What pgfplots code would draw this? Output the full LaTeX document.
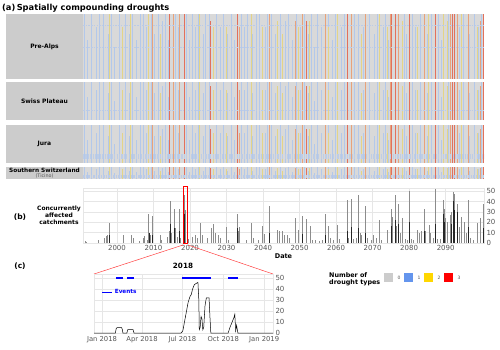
\documentclass[border=0pt]{standalone}
\usepackage{pgfplots}
\pgfplotsset{compat=1.18}
\usepackage{pgfplotstable}
\usepackage{fontspec}
\setmainfont{DejaVu Sans}
\definecolor{hbg}{HTML}{D9D9D9}
\definecolor{lbox}{HTML}{CCCCCC}
\definecolor{hblue}{HTML}{B3C8EA}
\definecolor{hyel}{HTML}{E3D487}
\definecolor{horg}{HTML}{E8A27A}
\definecolor{hred}{HTML}{E2705C}
\definecolor{tickc}{HTML}{555555}
\definecolor{gridc}{HTML}{E6E6E6}
\definecolor{cgray}{HTML}{CCCCCC}
\definecolor{cblue}{HTML}{6495ED}
\definecolor{cyel}{HTML}{FFD700}
\definecolor{cred}{HTML}{FF0000}

\pgfplotstableread{
x h
1991.2 1
1992.0 0.6
1993.1 1
1994.4 0.8
1995.3 1
1996.2 1
1997.6 0.7
1998.6 1
1999.4 0.5
2000.6 1
2001.5 0.8
2002.4 1
2003.3 0.7
2004.1 1
2005.2 0.6
2006.5 1
2007.3 1
2008.0 0.8
2009.3 1
2010.2 0.7
2011.4 1
2012.5 0.9
2013.4 1
2014.1 0.6
2016.1 1
2016.8 0.8
2019.0 1
2019.8 0.6
2020.7 1
2021.6 0.8
2022.4 1
2023.7 0.7
2024.3 1
2025.2 1
2026.3 0.6
2027.3 1
2028.2 0.8
2029.1 1
2030.2 0.7
2031.3 1
2032.2 0.6
2034.0 1
2034.8 0.8
2035.7 1
2037.0 0.7
2038.1 1
2039.0 1
2040.6 0.8
2041.2 1
2042.4 1
2043.3 0.7
2044.8 1
2046.0 0.9
2047.0 1
2048.1 0.6
2049.2 1
2050.2 0.8
2051.4 1
2052.3 0.7
2053.2 1
2054.0 0.5
2055.0 1
2056.0 0.8
2058.0 1
2058.9 0.6
2059.8 1
2061.5 0.8
2062.3 1
2065.0 1
2066.0 1
2067.4 0.8
2069.0 1
2070.6 0.7
2071.4 1
2072.9 0.8
2073.5 1
2074.4 0.6
2078.6 1
2079.2 0.7
2081.0 1
2081.8 0.8
2083.0 1
2085.0 0.7
2086.2 1
2088.0 1
2088.9 0.6
2090.8 1
2093.9 0.8
2094.8 1
2096.6 0.7
2097.8 1
2099.0 0.8
2099.9 1
}\blueT

\pgfplotstableread{
x h
1997.8 1
2001.6 0.8
2003.8 1
2008.7 1
2011.8 0.7
2022.7 1
2026.5 0.8
2029.9 0.8
2036.7 1
2039.7 0.8
2043.9 0.9
2045.3 0.7
2049.6 0.8
2052.8 0.9
2057.8 0.8
2060.3 1
2067.0 0.7
2071.9 1
2074.0 0.8
2078.1 0.9
2082.3 0.8
2085.4 1
2089.3 1
2090.5 0.9
2094.3 1
2098.6 0.8
}\yelT

\pgfplotstableread{
x h
2009.6 1
2015.6 1
2017.0 1
2033.6 0.8
2041.7 1
2048.8 0.9
2050.7 1
2057.0 1
2064.1 1
2068.0 1
2075.0 1
2077.1 1
2084.1 1
2091.3 1
2093.2 1
2096.2 1
2099.5 0.9
}\orgT

\pgfplotstableread{
x h
2014.5 1
2018.4 1
2025.7 0.9
2032.9 1
2051.9 0.9
2063.0 1
2075.3 1
2076.2 1
2080.0 1
2087.1 1
2092.0 1
2092.3 1
2100.3 1
}\redT

\pgfplotstableread{
x v
1991.3 2
1991.7 1
1995.0 3
1996.5 5
1997.0 7
1997.4 8
1997.8 19
1998.0 5
2001.6 8
2003.8 8
2004.5 5
2006.2 2
2007.2 5
2007.6 7
2008.2 3
2008.7 28
2009.0 8
2009.6 26
2011.8 8
2012.2 3
2013.8 6
2014.2 12
2014.5 40
2014.9 10
2015.6 33
2015.9 14
2016.5 6
2017.0 33
2017.4 5
2018.4 46
2018.6 32
2018.8 17
2019.4 4
2020.5 6
2021.3 8
2022.0 5
2022.7 19
2023.3 8
2024.6 5
2025.7 14
2026.5 18
2027.0 10
2027.8 8
2028.4 5
2029.9 15
2030.5 3
2032.9 28
2033.2 12
2033.6 15
2035.5 3
2036.7 19
2037.2 5
2038.6 3
2039.7 16
2040.3 9
2041.7 36
2043.9 13
2044.3 12
2045.3 12
2045.8 8
2046.6 8
2047.3 5
2048.8 24
2049.6 13
2050.7 26
2051.9 23
2052.8 16
2053.5 3
2054.4 3
2055.5 2
2056.2 3
2057.0 28
2057.8 16
2058.5 5
2059.3 3
2060.3 17
2061.0 4
2063.0 41
2063.4 5
2064.1 42
2064.7 4
2065.4 5
2066.0 46
2066.6 10
2067.0 8
2068.0 36
2068.5 5
2069.5 3
2070.2 8
2071.0 5
2071.9 22
2072.5 3
2074.0 13
2075.0 33
2075.3 25
2076.2 46
2076.6 16
2077.1 38
2077.6 10
2078.1 24
2078.8 4
2079.5 3
2080.0 50
2080.5 4
2081.2 3
2082.3 13
2082.8 10
2083.4 12
2084.1 33
2084.5 12
2085.4 17
2085.8 10
2086.6 5
2087.1 52
2087.6 4
2088.5 4
2089.3 41
2089.6 33
2090.0 24
2090.5 20
2091.3 27
2091.6 30
2092.0 49
2092.3 47
2093.2 38
2093.6 15
2094.3 25
2095.2 20
2095.6 10
2096.2 41
2096.8 5
2097.5 3
2098.6 19
2099.5 24
2100.3 38
}\concT

\pgfplotstableread{
x v
1997.8 8
2008.7 10
2009.6 8
2014.5 18
2015.6 14
2017.0 12
2018.4 28
2032.9 14
2041.7 10
2050.7 9
2057.0 8
2063.0 12
2064.1 15
2066.0 14
2068.0 10
2075.0 16
2076.2 22
2077.1 18
2080.0 20
2084.1 12
2087.1 18
2089.3 28
2089.6 20
2091.6 18
2092.0 40
2092.3 32
2093.2 30
2096.2 15
2100.3 14
}\darkT

\pgfplotsset{
  heat/.style={scale only axis, width=401pt, xmin=1990.7, xmax=2100.5,
    ymin=0, ymax=1, axis line style={draw=none}, ticks=none,
    axis background/.style={fill=hbg}, anchor=south west},
}
\newcommand{\stripeplots}{%
  \addplot[ycomb, draw=hblue, line width=0.85pt, mark=none] table[x=x,y=h]{\blueT};
  \addplot[ycomb, draw=hyel, line width=0.85pt, mark=none] table[x=x,y=h]{\yelT};
  \addplot[ycomb, draw=horg, line width=0.95pt, mark=none] table[x=x,y=h]{\orgT};
  \addplot[ycomb, draw=hred, line width=1.05pt, mark=none] table[x=x,y=h]{\redT};
}

\begin{document}
\begin{tikzpicture}[x=1pt,y=1pt]
\path[use as bounding box] (0,0) rectangle (500,349);

% title
\node[anchor=west, font=\bfseries\fontsize{8.3}{9}\selectfont, inner sep=0pt] at (2,340.5) {(a)\,Spatially compounding droughts};

% label boxes
\fill[lbox] (6,270) rectangle (83,335);
\fill[lbox] (6,229) rectangle (83,267);
\fill[lbox] (6,186) rectangle (83,224);
\fill[lbox] (6,170) rectangle (83,182);
\node[font=\bfseries\fontsize{6}{7}\selectfont] at (44.5,302.5) {Pre-Alps};
\node[font=\bfseries\fontsize{6}{7}\selectfont] at (44.5,247.5) {Swiss Plateau};
\node[font=\bfseries\fontsize{6}{7}\selectfont] at (44.5,205) {Jura};
\node[font=\bfseries\fontsize{5.8}{6}\selectfont, inner sep=0pt] at (44.5,178.6) {Southern Switzerland};
\node[font=\fontsize{4.8}{5}\selectfont, text=tickc, inner sep=0pt] at (44.5,173.2) {(Ticino)};

% heatmap panels
\begin{axis}[heat, height=65pt, at={(83pt,270pt)}]
\stripeplots
\addplot[draw=hblue!80!hbg, line width=1pt, dash pattern=on 1.5pt off 1.2pt] coordinates {(1990.7,0.83) (2100.5,0.83)};
\addplot[draw=hblue!80!hbg, line width=1pt, dash pattern=on 1.5pt off 1.2pt] coordinates {(1990.7,0.48) (2100.5,0.48)};
\end{axis}
\begin{axis}[heat, height=38pt, at={(83pt,229pt)}]
\stripeplots
\addplot[draw=hblue!80!hbg, line width=1pt, dash pattern=on 1.5pt off 1.2pt] coordinates {(1990.7,0.26) (2100.5,0.26)};
\end{axis}
\begin{axis}[heat, height=38pt, at={(83pt,186pt)}]
\stripeplots
\addplot[draw=hblue!70!hbg, line width=5pt, dash pattern=on 1.2pt off 1.2pt] coordinates {(1990.7,0.18) (2100.5,0.18)};
\end{axis}
\begin{axis}[heat, height=12pt, at={(83pt,170pt)}]
\stripeplots
\addplot[draw=hblue!80!hbg, line width=3pt, dash pattern=on 1.5pt off 1pt] coordinates {(1990.7,0.25) (2100.5,0.25)};
\end{axis}

% panel (b)
\node[font=\bfseries\fontsize{7.5}{8}\selectfont] at (20,132) {(b)};
\node[font=\bfseries\fontsize{6}{7}\selectfont, align=center] at (59,134) {Concurrently\\affected\\catchments};
\node[font=\bfseries\fontsize{6.5}{7}\selectfont] at (283.5,93) {Date};
\begin{axis}[scale only axis, width=401pt, height=55pt, at={(83pt,106pt)}, anchor=south west,
  xmin=1990.7, xmax=2100.5, ymin=0, ymax=53,
  xtick={2000,2010,...,2090}, ytick={0,10,...,50}, yticklabel pos=right,
  grid=major, major grid style={gridc, line width=0.4pt},
  axis line style={gridc}, major tick length=0pt,
  tick label style={font=\fontsize{7}{8}\selectfont, text=tickc},
  /pgf/number format/assume math mode=true, /pgf/number format/1000 sep={},
  xticklabel style={yshift=1pt}, yticklabel style={xshift=-1pt}, clip=false]
\addplot[ycomb, draw=black!45, line width=0.5pt, mark=none] table[x=x,y=v]{\concT};
\addplot[ycomb, draw=black!85, line width=0.45pt, mark=none] table[x=x,y=v]{\darkT};
\draw[red, line width=0.6pt] (axis cs:2018.05,-0.5) rectangle (axis cs:2019.15,55);
\end{axis}

% connector lines
\draw[red!75, line width=0.5pt] (183,104) -- (94,75);
\draw[red!75, line width=0.5pt] (188,104) -- (273,75);

% panel (c)
\node[font=\bfseries\fontsize{7.5}{8}\selectfont] at (20,83) {(c)};
\node[font=\bfseries\fontsize{7.2}{8}\selectfont] at (183,83) {2018};
\begin{axis}[scale only axis, width=179pt, height=59pt, at={(94pt,16pt)}, anchor=south west,
  xmin=-18, xmax=385, ymin=0, ymax=53.6,
  xtick={0,90,181,273,365}, xticklabels={Jan 2018, Apr 2018, Jul 2018, Oct 2018, Jan 2019},
  ytick={0,10,...,50}, yticklabel pos=right,
  grid=major, major grid style={gridc, line width=0.4pt},
  axis line style={gridc}, major tick length=0pt,
  tick label style={font=\fontsize{7}{8}\selectfont, text=tickc},
  xticklabel style={font=\fontsize{6.8}{8}\selectfont, yshift=0pt},
  /pgf/number format/assume math mode=true,
  yticklabel style={xshift=-1pt},
  unbounded coords=jump,
  legend style={at={(0.04,0.69)}, anchor=west, draw=none, fill=none,
    font=\bfseries\fontsize{5.7}{6}\selectfont, text=blue, inner sep=0pt},
  legend image code/.code={\draw[line width=1.5pt] (0pt,0pt) -- (10pt,0pt);}]
\addplot[blue, line width=1.5pt, mark=none] coordinates {(31,50) (47,50) (50,nan) (56,50) (72,50) (100,nan) (180,50) (245,50) (260,nan) (284,50) (306,50)};
\addlegendentry{Events}
\addplot[black, line width=0.5pt, mark=none, forget plot] coordinates {(-18,0) (30,0) (32,4) (34,5) (44,5) (46,3) (47,0) (56,0) (58,3) (70,3) (72,0) (178,0) (182,2) (188,15) (194,28) (198,33) (201,35) (204,40) (208,44) (212,45) (216,46) (218,30) (219,3) (221,5) (223,15) (225,13) (227,3) (229,5) (232,25) (235,32) (241,32) (243,15) (245,0) (284,0) (288,5) (293,10) (297,14) (299,17) (301,2) (303,7) (305,2) (306,0) (385,0)};
\end{axis}

% drought types legend
\node[anchor=west, align=left, font=\bfseries\fontsize{6.4}{7}\selectfont, inner sep=0pt] at (329,69.5) {Number of\\drought types};
\fill[cgray] (384,67) rectangle (393,76);
\fill[cblue] (404,67) rectangle (413,76);
\fill[cyel] (424,67) rectangle (433,76);
\fill[cred] (444,67) rectangle (453,76);
\node[font=\fontsize{4.5}{5}\selectfont, text=tickc] at (399,71.5) {0};
\node[font=\fontsize{4.5}{5}\selectfont, text=tickc] at (419,71.5) {1};
\node[font=\fontsize{4.5}{5}\selectfont, text=tickc] at (439,71.5) {2};
\node[font=\fontsize{4.5}{5}\selectfont, text=tickc] at (459,71.5) {3};
\end{tikzpicture}
\end{document}
